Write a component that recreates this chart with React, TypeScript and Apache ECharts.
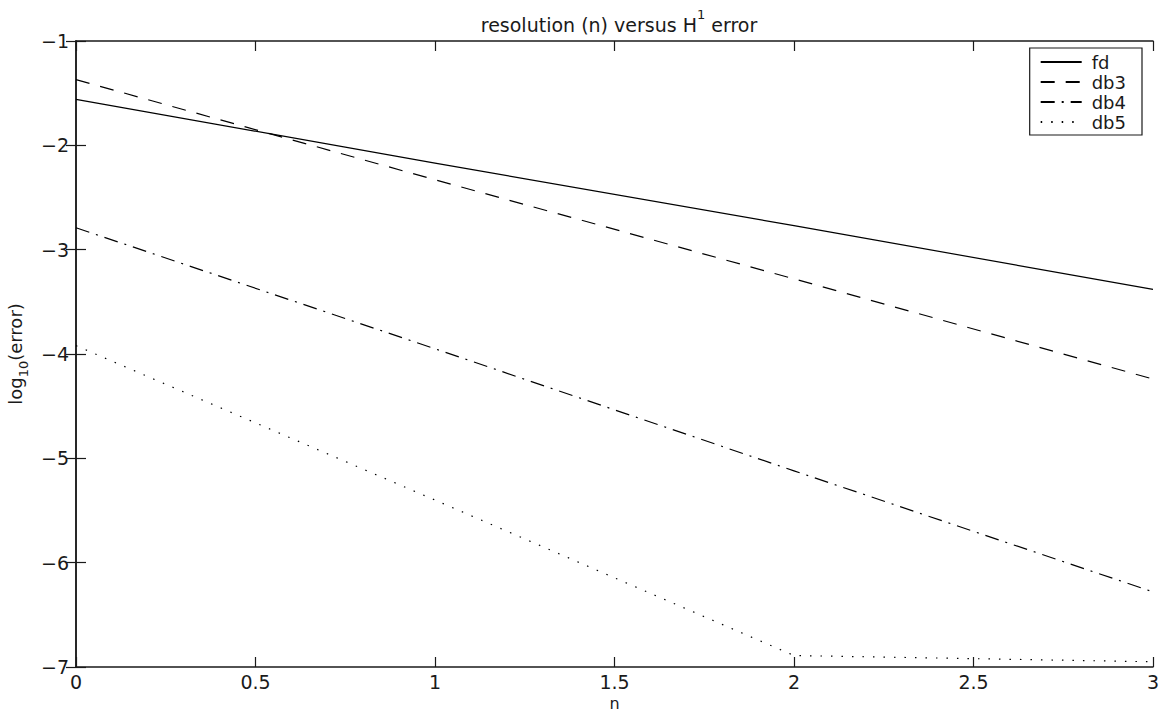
import React, { useEffect, useRef } from "react";
import * as echarts from "echarts";

const nValues = [0, 1, 2, 3];
const fdErr = [-1.56, -2.17, -2.77, -3.38];
const db3Err = [-1.37, -2.33, -3.28, -4.24];
const db4Err = [-2.79, -3.95, -5.12, -6.28];
const db5Err = [-3.92, -5.4, -6.89, -6.95];
const seriesNames = ["fd", "db3", "db4", "db5"];

const FONT = "'DejaVu Sans', 'Liberation Sans', Arial, sans-serif";
const INK = "#1a1a1a";

function pairs(ys: number[]) {
  return nValues.map((x, i) => [x, ys[i]]);
}

export default function App() {
  const ref = useRef<HTMLDivElement>(null);
  useEffect(() => {
    if (!ref.current) return;
    const chart = echarts.init(ref.current, undefined, { renderer: "svg" });
    const axisCommon = {
      axisLine: { show: true, lineStyle: { color: INK, width: 1.5 } },
      axisTick: { show: true, inside: true, length: 10, lineStyle: { color: INK, width: 1.2 } },
      splitLine: { show: false },
    };
    const minus = (v: number) => (v < 0 ? "\u2212" + Math.abs(v) : String(v));
    const dashes: any[] = ["solid", [14, 11], [14, 7, 2, 7], [1.5, 9]];
    const all = [fdErr, db3Err, db4Err, db5Err];
    chart.setOption({
      animation: false,
      backgroundColor: "#fff",
      textStyle: { fontFamily: FONT },
      title: {
        text: "{a|resolution (n) versus H}{sup|1}{a| error}",
        left: 614,
        textAlign: "center",
        top: 3,
        textStyle: {
          fontWeight: "normal",
          rich: {
            a: { fontSize: 19, fontFamily: FONT, color: INK, fontWeight: "normal", lineHeight: 26, verticalAlign: "bottom" },
            sup: { fontSize: 13, fontFamily: FONT, color: INK, fontWeight: "normal", lineHeight: 26, verticalAlign: "top" },
          },
        },
      },
      grid: { left: 76, right: 10, top: 41, bottom: 46, outerBoundsMode: "none", containLabel: false },
      legend: {
        show: true,
        data: seriesNames,
        orient: "vertical",
        right: 21,
        top: 48,
        itemWidth: 41,
        itemHeight: 14,
        itemGap: 0,
        padding: [4, 16, 3, 10],
        borderColor: INK,
        borderWidth: 1.2,
        backgroundColor: "#fff",
        itemStyle: { opacity: 0, color: "rgba(0,0,0,0)", borderWidth: 0 },
        textStyle: { fontSize: 18, lineHeight: 20, fontFamily: FONT, color: INK, padding: [0, 0, 0, 5] },
      },
      xAxis: [
        {
          type: "value",
          min: 0,
          max: 3,
          interval: 0.5,
          name: "n",
          nameLocation: "middle",
          nameGap: 20,
          nameTextStyle: { fontSize: 16, lineHeight: 16, color: INK, fontFamily: FONT },
          axisLabel: { fontSize: 19, color: INK, margin: 5, fontFamily: FONT },
          ...axisCommon,
        },
        {
          type: "value",
          position: "top",
          min: 0,
          max: 3,
          interval: 0.5,
          axisLabel: { show: false },
          ...axisCommon,
        },
      ],
      yAxis: [
        {
          type: "value",
          min: -7,
          max: -1,
          interval: 1,
          name: "{a|log}{sub|10}{a|(error)}",
          nameLocation: "middle",
          nameRotate: 90,
          nameGap: 45,
          nameTextStyle: {
            rich: {
              a: { fontSize: 18, fontFamily: FONT, color: INK, lineHeight: 24, verticalAlign: "top" },
              sub: { fontSize: 13, fontFamily: FONT, color: INK, lineHeight: 24, verticalAlign: "bottom" },
            },
          },
          axisLabel: { fontSize: 19, color: INK, margin: 7, fontFamily: FONT, formatter: minus },
          ...axisCommon,
        },
        {
          type: "value",
          position: "right",
          min: -7,
          max: -1,
          interval: 1,
          axisLabel: { show: false },
          ...axisCommon,
        },
      ],
      series: seriesNames.map((name, i) => ({
        name,
        type: "line",
        xAxisIndex: 0,
        yAxisIndex: 0,
        data: pairs(all[i]),
        symbol: "none",
        lineStyle: { color: "#000", width: 1.2, type: dashes[i] },
        itemStyle: { color: "#000" },
      })),
    });
    return () => chart.dispose();
  }, []);
  return (
    <div
      ref={ref}
      style={{ position: "fixed", left: 0, top: 0, width: 1163, height: 713, background: "#fff" }}
    />
  );
}
